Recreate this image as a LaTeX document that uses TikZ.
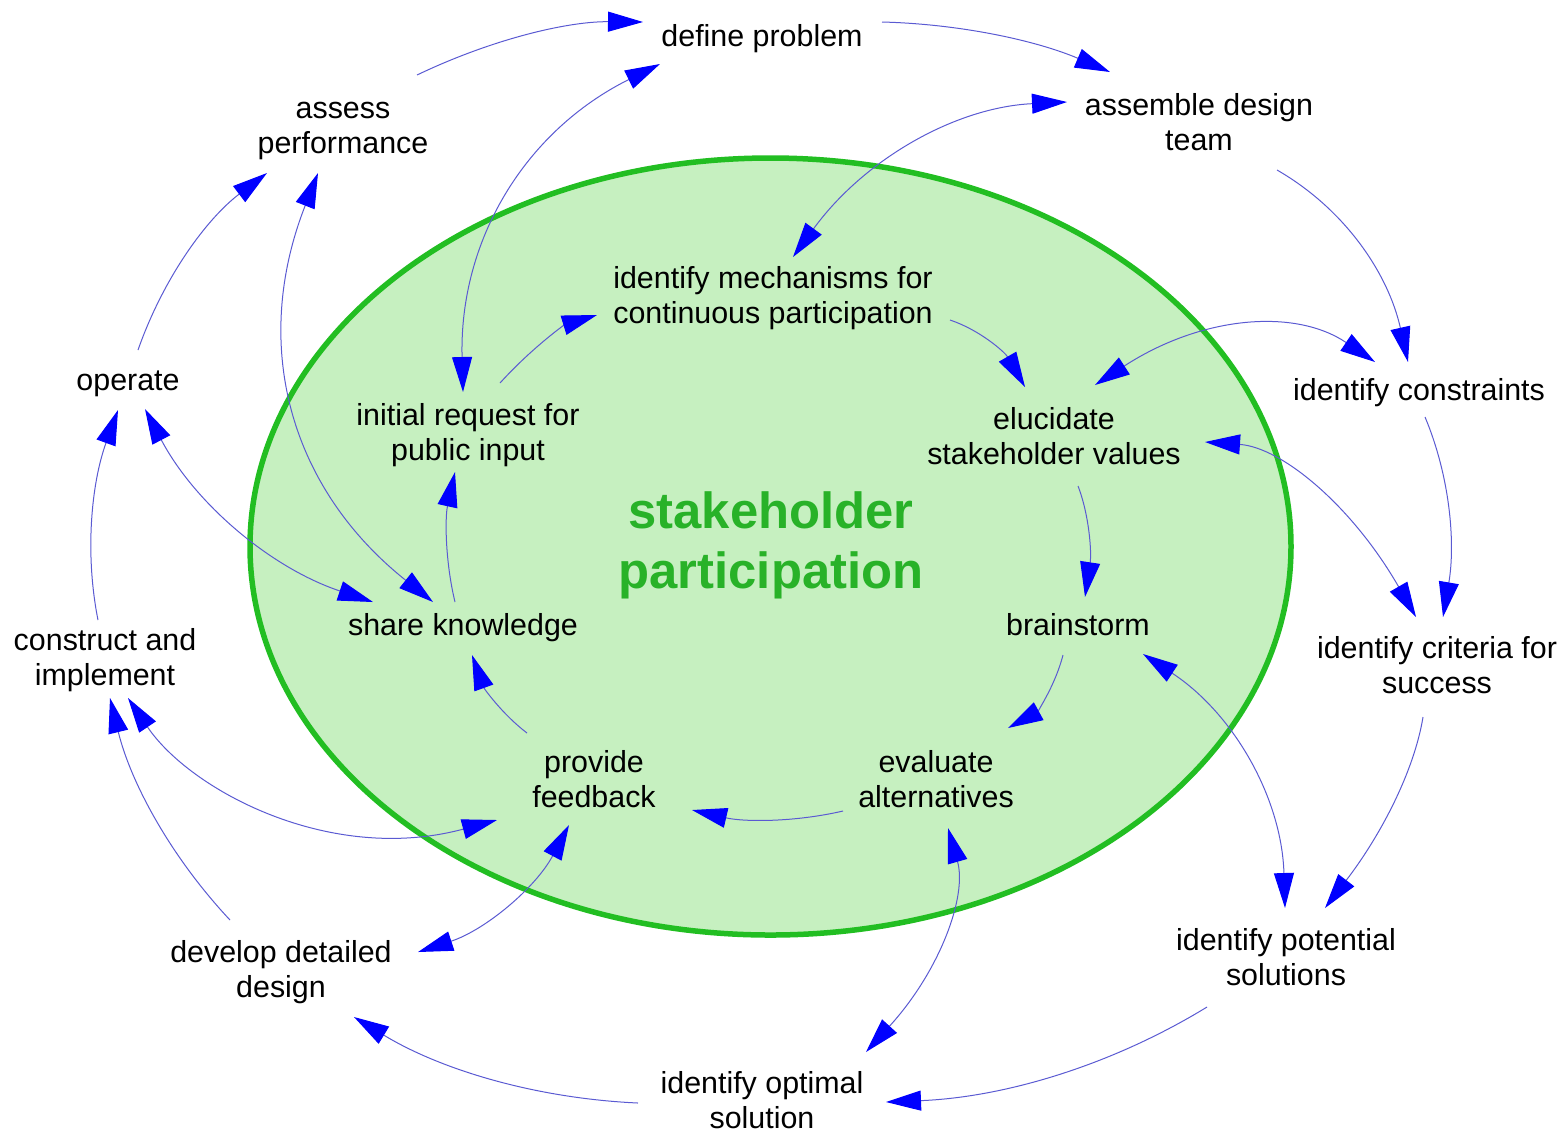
\documentclass[tikz,border=0pt]{standalone}
\usepackage{fontspec}
\setmainfont{Liberation Sans}
\usetikzlibrary{arrows.meta}
\definecolor{ellfill}{RGB}{198,240,192}
\definecolor{ellline}{RGB}{34,190,34}
\definecolor{titlegreen}{RGB}{40,178,40}
\definecolor{conncol}{RGB}{90,90,210}
\definecolor{headcol}{RGB}{0,0,255}
\newcommand\lblfont{\fontsize{15.2pt}{17.5pt}\selectfont}
\newcommand\ttlfont{\fontsize{25.4pt}{30pt}\selectfont\bfseries}
\begin{document}
\begin{tikzpicture}[x=0.5pt,y=-0.5pt,
  lbl/.style={font=\lblfont, align=center, inner sep=0pt},
  ttl/.style={font=\ttlfont, text=titlegreen, align=center, inner sep=0pt},
  conn/.style={draw=conncol, line width=0.5pt, -{Triangle[length=17.5pt,width=10pt,color=headcol]}},
  dconn/.style={draw=conncol, line width=0.5pt, {Triangle[length=17.5pt,width=10pt,color=headcol]}-{Triangle[length=17.5pt,width=10pt,color=headcol]}},
  ring/.style={fill=ellfill, draw=ellline, line width=2.75pt}
]
\useasboundingbox (0,0) rectangle (1568,1132);
\path[ring] (770.5,546.5) ellipse [x radius=260.25pt, y radius=194.25pt];

\node[lbl] (dp) at (762,39) {define problem\strut};
\node[lbl] (ap) at (343,128.5) {assess\strut\\performance\strut};
\node[lbl] (ad) at (1199,125.5) {assemble design\strut\\team\strut};
\node[lbl] (im) at (773,298.5) {identify mechanisms for\strut\\continuous participation\strut};
\node[lbl] (op) at (128,383) {operate\strut};
\node[lbl] (ir) at (468,435.5) {initial request for\strut\\public input\strut};
\node[lbl] (ic) at (1419,393) {identify constraints\strut};
\node[lbl] (es) at (1054,439.5) {elucidate\strut\\stakeholder values\strut};
\node[ttl] (sp) at (771,546) {stakeholder\strut\\participation\strut};
\node[lbl] (sk) at (463,628) {share knowledge\strut};
\node[lbl] (bs) at (1078,628) {brainstorm\strut};
\node[lbl] (ci) at (105,660.5) {construct and\strut\\implement\strut};
\node[lbl] (cs) at (1437,668.5) {identify criteria for\strut\\success\strut};
\node[lbl] (pf) at (594,782.5) {provide\strut\\feedback\strut};
\node[lbl] (ea) at (936,782.5) {evaluate\strut\\alternatives\strut};
\node[lbl] (dd) at (281,972.5) {develop detailed\strut\\design\strut};
\node[lbl] (ps) at (1286,960.5) {identify potential\strut\\solutions\strut};
\node[lbl] (os) at (762,1099) {identify optimal\strut\\solution};

% outer loop
\draw[conn] ([shift={(74,-53.5)}]ap.center) .. controls (492.3,39) and (567.7,21.3) .. ([shift={(-119,-17)}]dp.center);
\draw[conn] ([shift={(120,-17)}]dp.center) .. controls (960.7,24) and (1036.7,40.7) .. ([shift={(-89,-53.5)}]ad.center);
\draw[dconn] ([shift={(-132,-23.5)}]ad.center) .. controls (955.7,107.3) and (864.3,159) .. ([shift={(20,-41.5)}]im.center);
\draw[conn] ([shift={(78,44.5)}]ad.center) .. controls (1344.3,208.7) and (1388,272.7) .. ([shift={(-11,-31)}]ic.center);
\draw[conn] ([shift={(6,24)}]ic.center) .. controls (1449.7,475.7) and (1455.7,542.3) .. ([shift={(6,-51.5)}]cs.center);
\draw[dconn] ([shift={(41,-54.5)}]es.center) .. controls (1201.7,315.7) and (1295,308) .. ([shift={(-44,-31)}]ic.center);
\draw[dconn] ([shift={(151,2.5)}]es.center) .. controls (1281.7,447.3) and (1352,505.7) .. ([shift={(-21,-51.5)}]cs.center);
\draw[conn] ([shift={(-14,48.5)}]cs.center) .. controls (1414.3,770.3) and (1381.7,834) .. ([shift={(39,-52.5)}]ps.center);
\draw[dconn] ([shift={(65,26)}]bs.center) .. controls (1234.3,714) and (1281.7,798.7) .. ([shift={(-1,-52.5)}]ps.center);
\draw[conn] ([shift={(-79,46.5)}]ps.center) .. controls (1111,1065.7) and (1004,1097.3) .. ([shift={(124,3)}]os.center);
\draw[dconn] ([shift={(12,45.5)}]ea.center) .. controls (967.3,896) and (940,970.7) .. ([shift={(104,-47)}]os.center);
\draw[conn] ([shift={(-124,4)}]os.center) .. controls (535.3,1098.3) and (440.7,1069.7) .. ([shift={(73,44.5)}]dd.center);
\draw[dconn] ([shift={(137,-20.5)}]dd.center) .. controls (485.3,930) and (535.7,887.7) .. ([shift={(-25,42.5)}]pf.center);
\draw[conn] ([shift={(-51,-52.5)}]dd.center) .. controls (170.7,856.7) and (130.7,782.7) .. ([shift={(5,37.5)}]ci.center);
\draw[dconn] ([shift={(23,37.5)}]ci.center) .. controls (190,790) and (330,865) .. ([shift={(-97,37.5)}]pf.center);
\draw[conn] ([shift={(-7,-40.5)}]ci.center) .. controls (84.7,553.3) and (91.3,483.3) .. ([shift={(-10,27)}]op.center);
\draw[dconn] ([shift={(17,26)}]op.center) .. controls (195,503.7) and (271,568) .. ([shift={(-90,-26)}]sk.center);
\draw[conn] ([shift={(10,-33)}]op.center) .. controls (163.3,278) and (206.3,219) .. ([shift={(-76,44.5)}]ap.center);
\draw[dconn] ([shift={(-25,44.5)}]ap.center) .. controls (250.7,344.3) and (289,487.3) .. ([shift={(-30,-26)}]sk.center);
\draw[dconn] ([shift={(-102,25)}]dp.center) .. controls (524.7,131.3) and (459,240.7) .. ([shift={(-5,-43.5)}]ir.center);

% inner loop
\draw[conn] ([shift={(32,-52.5)}]ir.center) .. controls (532,347.7) and (564.3,325) .. ([shift={(-176,16.5)}]im.center);
\draw[conn] ([shift={(177,21.5)}]im.center) .. controls (980,330) and (1005,352.3) .. ([shift={(-29,-52.5)}]es.center);
\draw[conn] ([shift={(24,46.5)}]es.center) .. controls (1089.3,515.3) and (1091.7,552.3) .. ([shift={(7,-31)}]bs.center);
\draw[conn] ([shift={(-15,27)}]bs.center) .. controls (1054.3,688.3) and (1036,712.7) .. ([shift={(72,-54.5)}]ea.center);
\draw[conn] ([shift={(-93,28.5)}]ea.center) .. controls (794.3,822.3) and (744,822) .. ([shift={(98,27.5)}]pf.center);
\draw[conn] ([shift={(-67,-49.5)}]pf.center) .. controls (502.3,714.3) and (484,688.3) .. ([shift={(9,27)}]sk.center);
\draw[conn] ([shift={(-8,-26)}]sk.center) .. controls (445,560.7) and (445,517.3) .. ([shift={(-13,36.5)}]ir.center);
\end{tikzpicture}
\end{document}
